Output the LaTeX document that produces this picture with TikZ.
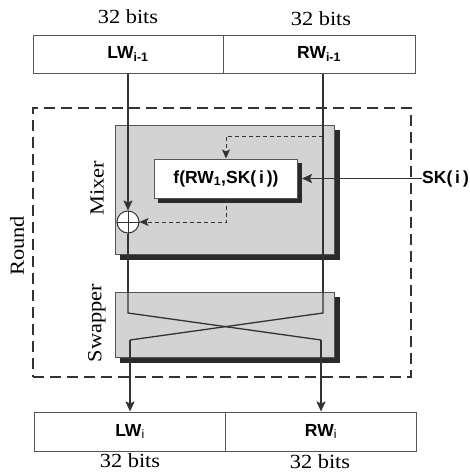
\documentclass[tikz,border=0pt]{standalone}
\usepackage{fontspec}
\setmainfont[FakeStretch=1.12]{Liberation Serif}
\newfontfamily\arialf{Liberation Sans}
\usetikzlibrary{arrows.meta,shadows,calc}
\definecolor{ln}{HTML}{333333}
\definecolor{bx}{HTML}{555555}
\definecolor{gfill}{HTML}{D3D3D3}
\definecolor{shd}{HTML}{2A2A2A}
\tikzset{
  wordbox/.style={draw=bx, line width=1pt, minimum height=38pt, inner sep=0pt, font=\arialf\bfseries\fontsize{17.5}{19}\selectfont},
  graybox/.style={draw=bx, line width=1pt, fill=gfill, inner sep=0pt,
     copy shadow={shadow xshift=5pt, shadow yshift=-5pt, fill=shd, draw=shd}},
  fbox/.style={draw=bx, line width=1pt, fill=white, inner sep=0pt,
     copy shadow={shadow xshift=4pt, shadow yshift=-4pt, fill=shd, draw=shd},
     font=\arialf\bfseries\fontsize{17.5}{19}\selectfont},
  bits/.style={font=\fontsize{20}{22}\selectfont, inner sep=0pt},
  sidelbl/.style={font=\fontsize{20}{22}\selectfont, rotate=90, inner sep=0pt},
  main/.style={draw=ln, line width=1.8pt},
  arr/.style={main, -{Stealth[length=10pt,width=9pt,inset=2pt]}},
  darr/.style={draw=ln, line width=1pt, dashed, dash pattern=on 4pt off 3pt, -{Stealth[length=9pt,width=8pt,inset=2pt]}},
  swp/.style={draw=ln, line width=1.3pt},
}
\begin{document}
\begin{tikzpicture}[x=1pt,y=-1pt]
\useasboundingbox (0,0) rectangle (470,474);
% round dashed box
\node[draw=ln, line width=2pt, dash pattern=on 11pt off 6pt, minimum width=378pt, minimum height=269pt, inner sep=0pt] (round) at (222,242.5) {};
\node[sidelbl] (roundlbl) at (17,246) {Round};
% top words
\node[wordbox, minimum width=190pt] (lwtop) at (128,54) {LW\textsubscript{i-1}};
\node[wordbox, minimum width=192pt] (rwtop) at (319,54) {RW\textsubscript{i-1}};
\node[bits] (b1) at (128,17) {32 bits};
\node[bits] (b2) at (321,19) {32 bits};
% mixer
\node[graybox, minimum width=219pt, minimum height=129pt] (mixer) at (224.5,189.5) {};
\node[sidelbl] (mixlbl) at (97,188) {Mixer};
\node[fbox, minimum width=143pt, minimum height=39pt] (f) at (226,178.5) {f(RW\textsubscript{1},SK(\,i\,))};
% swapper
\node[graybox, minimum width=219pt, minimum height=65pt] (swapper) at (224.5,324.5) {};
\node[sidelbl] (swplbl) at (97,323) {Swapper};
% xor
\node[draw=ln, line width=1pt, fill=white, circle, minimum size=22pt, inner sep=0pt] (xor) at (128,222) {};
\draw[ln, line width=1pt] (xor.north) -- (xor.south) (xor.west) -- (xor.east);
% bottom words
\node[wordbox, minimum width=191pt, minimum height=39pt] (lwbot) at (130,431.5) {LW\textsubscript{\mdseries i}};
\node[wordbox, minimum width=191pt, minimum height=39pt] (rwbot) at (321,431.5) {RW\textsubscript{\mdseries i}};
\node[bits] (b3) at (130,461) {32 bits};
\node[bits] (b4) at (320,462) {32 bits};
% SK input
\node[font=\arialf\bfseries\fontsize{17.5}{19}\selectfont, inner sep=0pt, anchor=west] (sk) at (422,178.5) {SK(\,i\,)};
% swap coordinates
\coordinate (s1) at (128,313);
\coordinate (s2) at (321,340);
\coordinate (s3) at (323,313);
\coordinate (s4) at (130,340);
\coordinate (d1) at (323,136);
\coordinate (d2) at (226,136);
\coordinate (d3) at (226,222);
% connectors
\draw[arr] (lwtop.south) -- (xor.north);
\draw[main] (xor.south) -- (s1 |- swapper.north);
\draw[swp] (s1 |- swapper.north) -- (s1) -- (s2);
\draw[arr] (s2) -- (rwbot.north);
\draw[main] (s3 |- rwtop.south) -- (s3 |- swapper.north);
\draw[swp] (s3 |- swapper.north) -- (s3) -- (s4);
\draw[arr] (s4) -- (lwbot.north);
\draw[darr] (d1) -- (d2) -- (f.north);
\draw[darr] (f.south) -- (d3) -- (xor.east);
\draw[arr] (sk.west) -- ([xshift=4pt]f.east);
\end{tikzpicture}
\end{document}
